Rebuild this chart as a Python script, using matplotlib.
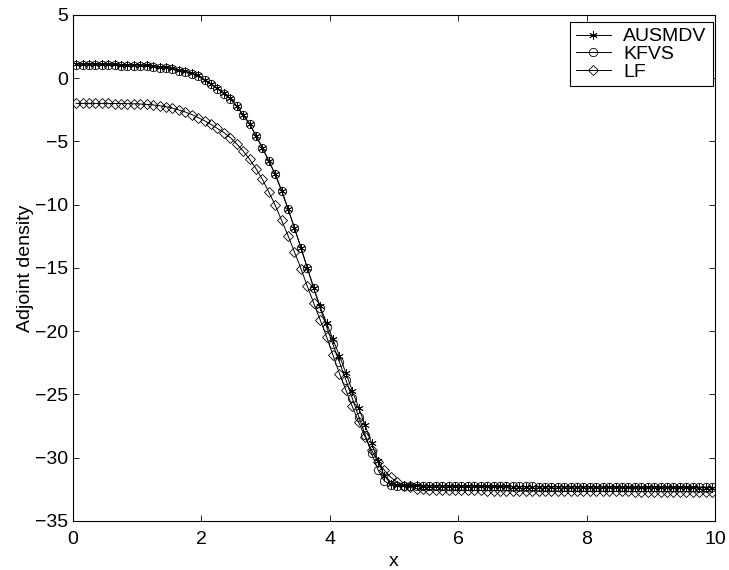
import numpy as np
import matplotlib
matplotlib.use('Agg')
import matplotlib.pyplot as plt

# cell centres of the 100-cell grid on [0, 10]
x = np.linspace(0.05, 9.95, 100)

ausmdv = [
    1.10, 1.10, 1.10, 1.10, 1.09, 1.09, 1.08, 1.07, 1.06, 1.05,
    1.03, 1.00, 0.96, 0.91, 0.85, 0.77, 0.67, 0.55, 0.40, 0.22,
    -0.12, -0.45, -0.80, -1.20, -1.60, -2.20, -2.90, -3.60, -4.55, -5.50,
    -6.55, -7.60, -8.90, -10.35, -11.85, -13.40, -15.00, -16.60, -18.05, -19.35,
    -20.65, -21.95, -23.30, -24.70, -26.05, -27.45, -28.85, -30.25, -31.45, -32.05,
    -32.15, -32.17, -32.18, -32.19, -32.20, -32.21, -32.22, -32.22, -32.23, -32.23,
    -32.24, -32.24, -32.25, -32.25, -32.26, -32.26, -32.27, -32.27, -32.28, -32.28,
    -32.29, -32.29, -32.29, -32.30, -32.30, -32.30, -32.31, -32.31, -32.31, -32.32,
    -32.32, -32.32, -32.32, -32.33, -32.33, -32.33, -32.33, -32.34, -32.34, -32.34,
    -32.34, -32.34, -32.35, -32.35, -32.35, -32.35, -32.35, -32.36, -32.36, -32.36,
]

kfvs = [
    1.02, 1.02, 1.02, 1.02, 1.01, 1.01, 1.00, 0.99, 0.98, 0.97,
    0.95, 0.92, 0.88, 0.83, 0.77, 0.69, 0.59, 0.47, 0.32, 0.14,
    -0.18, -0.50, -0.85, -1.25, -1.65, -2.22, -2.92, -3.62, -4.55, -5.50,
    -6.55, -7.60, -8.90, -10.35, -11.85, -13.40, -15.00, -16.60, -18.20, -19.65,
    -21.05, -22.45, -23.85, -25.30, -26.75, -28.20, -29.65, -30.95, -31.85, -32.15,
    -32.20, -32.21, -32.21, -32.22, -32.22, -32.23, -32.23, -32.23, -32.24, -32.24,
    -32.24, -32.25, -32.25, -32.25, -32.26, -32.26, -32.26, -32.26, -32.27, -32.27,
    -32.27, -32.27, -32.28, -32.28, -32.28, -32.28, -32.28, -32.29, -32.29, -32.29,
    -32.29, -32.29, -32.29, -32.30, -32.30, -32.30, -32.30, -32.30, -32.30, -32.30,
    -32.31, -32.31, -32.31, -32.31, -32.31, -32.31, -32.31, -32.32, -32.32, -32.32,
]

lf = [
    -2.00, -2.00, -2.00, -2.00, -2.00, -2.00, -2.01, -2.01, -2.02, -2.03,
    -2.05, -2.08, -2.12, -2.18, -2.26, -2.38, -2.52, -2.68, -2.88, -3.12,
    -3.38, -3.66, -3.98, -4.30, -4.70, -5.20, -5.75, -6.40, -7.15, -8.00,
    -9.00, -10.05, -11.25, -12.45, -13.75, -15.05, -16.45, -17.80, -19.10, -20.45,
    -21.90, -23.35, -24.65, -25.95, -27.20, -28.35, -29.40, -30.30, -31.00, -31.55,
    -31.95, -32.20, -32.35, -32.45, -32.50, -32.52, -32.54, -32.55, -32.56, -32.57,
    -32.58, -32.58, -32.59, -32.59, -32.60, -32.60, -32.61, -32.61, -32.62, -32.62,
    -32.63, -32.63, -32.63, -32.64, -32.64, -32.64, -32.65, -32.65, -32.65, -32.66,
    -32.66, -32.66, -32.66, -32.67, -32.67, -32.67, -32.67, -32.68, -32.68, -32.68,
    -32.68, -32.68, -32.69, -32.69, -32.69, -32.69, -32.69, -32.70, -32.70, -32.70,
]

series = [
    ('AUSMDV', ausmdv, (6, 2, 0)),
    ('KFVS', kfvs, 'o'),
    ('LF', lf, 'D'),
]

plt.rcParams['font.family'] = ['Liberation Sans', 'DejaVu Sans']

fig = plt.figure(figsize=(7.29, 5.70), dpi=100)
ax = fig.add_axes([0.100, 0.086, 0.881, 0.888])

for name, y, marker in series:
    size = 5.0 if marker == 'D' else 6.0
    ax.plot(x, y, color='black', lw=0.7, marker=marker, markersize=size,
            markerfacecolor='none', markeredgecolor='black',
            markeredgewidth=0.6, label=name)

ax.set_xlim(0, 10)
ax.set_ylim(-35, 5)
ax.set_xticks(np.arange(0, 11, 2))
ax.set_yticks(np.arange(-35, 6, 5))
ax.tick_params(direction='in', top=True, right=True, length=4.6,
               width=0.6, labelsize=14)
ax.tick_params(axis='x', pad=7)
ax.tick_params(axis='y', pad=3.5)
for spine in ax.spines.values():
    spine.set_linewidth(0.8)

ax.set_xlabel('x', fontsize=14, labelpad=4)
ax.set_ylabel('Adjoint density', fontsize=14, labelpad=1)

leg = ax.legend(loc='upper right', bbox_to_anchor=(0.996, 0.986),
                borderaxespad=0, fontsize=14, fancybox=False,
                edgecolor='black', framealpha=1, handlelength=1.8,
                handletextpad=0.65, borderpad=0.3, labelspacing=0.0)
leg.get_frame().set_linewidth(0.8)

fig.savefig('out.png', dpi=100)
